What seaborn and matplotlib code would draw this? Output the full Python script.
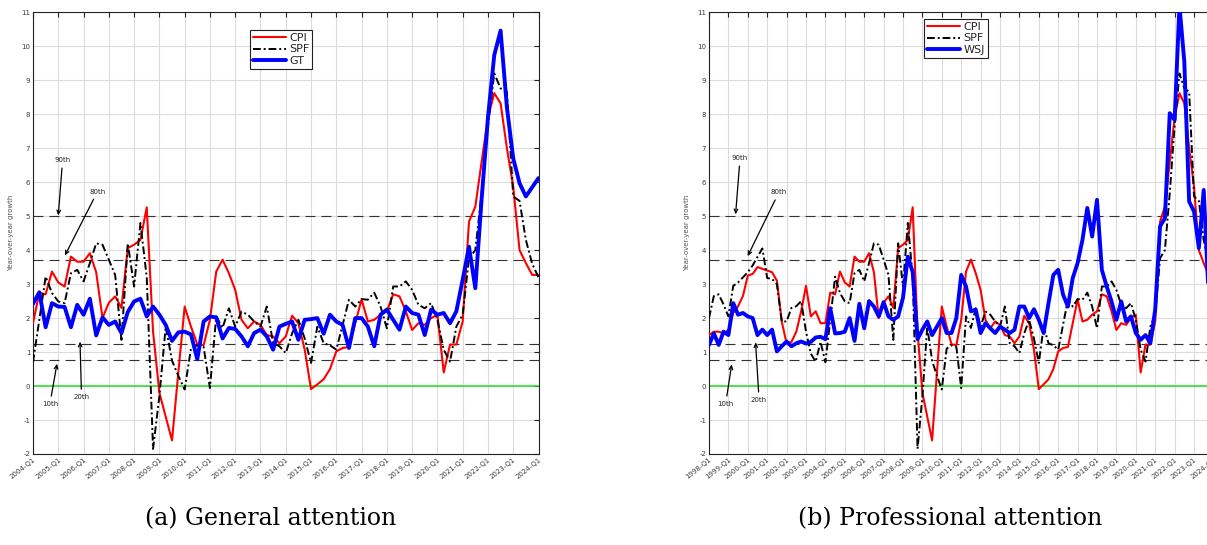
import numpy as np
import pandas as pd
import matplotlib
matplotlib.use("Agg")
import matplotlib.pyplot as plt
import seaborn as sns

# ---------------- data (quarterly, year-over-year growth, %) ----------------
# CPI and SPF: 1998-Q1 .. 2024-Q1 (105 quarters)
cpi = [1.5, 1.6, 1.6, 1.55, 1.65, 2.15, 2.35, 2.65, 3.25, 3.3, 3.5, 3.45,
       3.4, 3.35, 3.1, 1.9, 1.25, 1.3, 1.6, 2.2, 2.95, 2.05, 2.2, 1.85,
       1.85, 2.75, 2.7, 3.37, 3.05, 2.93, 3.81, 3.66, 3.66, 3.91,
       3.35, 2.0, 2.45, 2.64, 2.3, 4.06, 4.16, 4.3, 5.26, 1.6,
       -0.2, -0.9, -1.6, 0.4, 2.34, 1.75, 1.23, 1.2, 1.95, 3.37,
       3.72, 3.32, 2.83, 1.95, 1.7, 1.9, 1.8, 1.5, 1.46, 1.26,
       1.46, 2.07, 1.85, 1.07, -0.09, 0.05, 0.2, 0.5, 1.02, 1.12,
       1.15, 1.85, 2.55, 1.9, 1.95, 2.1, 2.2, 2.7, 2.64, 2.2,
       1.65, 1.85, 1.8, 2.0, 2.1, 0.4, 1.22, 1.22, 1.9, 4.84,
       5.28, 6.6, 7.9, 8.62, 8.32, 7.0, 5.87, 4.0, 3.62, 3.27, 3.27]
spf = [2.0, 2.65, 2.7, 2.4, 2.05, 2.95, 3.05, 3.2, 3.35, 3.55, 3.8, 4.05,
       3.18, 3.15, 3.0, 1.9, 1.9, 2.3, 2.35, 2.5, 1.6, 0.95, 0.72, 1.3,
       0.7, 1.95, 3.22, 2.74, 2.49, 2.44, 3.32, 3.42, 3.08, 3.62,
       4.2, 4.16, 3.72, 3.27, 1.36, 4.2, 2.93, 4.8, 3.2, -1.85,
       -0.3, 1.75, 0.75, 0.3, -0.1, 1.1, 1.2, 1.15, -0.06, 2.05,
       1.71, 2.29, 1.75, 2.19, 2.1, 1.9, 1.75, 2.34, 1.26, 1.17,
       0.97, 1.55, 1.95, 1.4, 0.68, 1.75, 1.26, 1.2, 1.07, 1.8,
       2.54, 2.34, 2.56, 2.54, 2.75, 2.34, 1.7, 2.93, 2.93, 3.08,
       2.83, 2.39, 2.29, 2.44, 1.95, 1.07, 0.72, 1.75, 2.1, 3.76,
       4.0, 5.68, 7.65, 9.2, 8.76, 8.66, 5.58, 5.45, 4.3, 3.6, 3.2]
# GT (general attention): 2004-Q1 .. 2024-Q1 (81 quarters)
gt = [2.42, 2.76, 1.73, 2.44, 2.34, 2.33, 1.73, 2.39, 2.1, 2.57,
      1.49, 2.02, 1.8, 1.9, 1.56, 2.18, 2.49, 2.57, 2.05, 2.34,
      2.1, 1.8, 1.33, 1.58, 1.6, 1.52, 0.79, 1.9, 2.05, 2.02,
      1.4, 1.71, 1.68, 1.46, 1.17, 1.56, 1.66, 1.46, 1.07, 1.75,
      1.83, 1.9, 1.36, 1.95, 1.97, 2.0, 1.54, 2.1, 1.9, 1.8,
      1.12, 2.0, 2.0, 1.75, 1.17, 2.1, 2.25, 1.95, 1.66, 2.34,
      2.15, 2.1, 1.5, 2.25, 2.1, 2.15, 1.85, 2.2, 3.13, 4.1,
      2.88, 5.5, 7.9, 9.74, 10.46, 8.2, 6.7, 5.97, 5.58, 5.85, 6.12]
# WSJ (professional attention): 1998-Q1 .. 2024-Q1 (105 quarters)
wsj = [1.21, 1.55, 1.21, 1.6, 1.5, 2.44, 2.1, 2.15, 2.05, 2.0,
       1.5, 1.66, 1.5, 1.66, 1.02, 1.17, 1.31, 1.17, 1.26, 1.31,
       1.25, 1.3, 1.43, 1.45, 1.38, 2.29, 1.55, 1.56, 1.6, 2.0,
       1.33, 2.42, 1.7, 2.5, 2.34, 2.05, 2.47, 2.05, 1.95, 2.05,
       2.6, 3.81, 3.35, 1.38, 1.66, 1.9, 1.5, 1.75, 2.0, 1.56,
       1.56, 2.0, 3.27, 2.93, 2.2, 2.25, 1.56, 1.85, 1.7, 1.56,
       1.75, 1.66, 1.56, 1.66, 2.34, 2.34, 2.0, 2.26, 1.95, 1.56,
       2.44, 3.27, 3.42, 2.69, 2.34, 3.18, 3.62, 4.3, 5.24, 4.4,
       5.48, 3.42, 2.93, 2.49, 1.95, 2.49, 1.9, 2.05, 1.56, 1.36,
       1.5, 1.26, 2.25, 4.7, 4.94, 8.03, 7.83, 11.2, 9.55, 5.43,
       5.14, 4.06, 5.77, 2.7, 3.0]

percentile_levels = [5.0, 3.7, 1.23, 0.77]
percentile_names = ["90th", "80th", "20th", "10th"]
start_full = 1998
start_gt = 2004
end_year = 2024
captions = ["(a) General attention", "(b) Professional attention"]

# ---------------- build frames ----------------
t_full = start_full + np.arange(len(cpi)) / 4.0
df_full = pd.DataFrame({"t": t_full, "CPI": cpi, "SPF": spf, "WSJ": wsj})
off = (start_gt - start_full) * 4
df_gt = pd.DataFrame({"t": t_full[off:], "CPI": cpi[off:], "SPF": spf[off:], "GT": gt})

sns.set_theme(style="white")
plt.rcParams["font.family"] = ["DejaVu Sans"]

W, H = 1207, 545
fig = plt.figure(figsize=(W / 100, H / 100), dpi=100)

def px_axes(x0, y0, x1, y1):
    return fig.add_axes([x0 / W, 1 - y1 / H, (x1 - x0) / W, (y1 - y0) / H])

axL = px_axes(33, 12.3, 538.5, 454)
axR = px_axes(709, 12.3, 709 + 19.4 * 26, 454)

tick_gray = "#3a3a3a"

def style_axes(ax, y0, y1):
    ax.set_xlim(y0, y1)
    ax.set_ylim(-2, 11)
    years = list(range(y0, y1 + 1))
    ax.set_xticks(years)
    ax.set_xticklabels([f"{y}-Q1" for y in years], rotation=38, ha="right",
                       rotation_mode="anchor", fontsize=5, color=tick_gray)
    ax.set_yticks(range(-2, 12))
    ax.set_yticklabels([str(v) for v in range(-2, 12)], fontsize=5, color=tick_gray)
    ax.tick_params(direction="in", length=3.5, width=0.8, top=True, right=True,
                   color="#222222", pad=2)
    ax.grid(True, color="#dcdcdc", linewidth=0.8)
    ax.set_axisbelow(True)
    for s in ax.spines.values():
        s.set_color("#222222")
        s.set_linewidth(0.8)
        s.set_visible(True)
    ax.set_ylabel("Year-over-year growth", fontsize=5, color="#555555")
    ax.yaxis.set_label_coords(-0.037, 0.5)
    ax.set_xlabel("")
    # percentile reference lines and zero line
    for lv in percentile_levels:
        ax.axhline(lv, color="#333333", lw=0.8, ls=(0, (9, 5.4)), zorder=2)
    ax.axhline(0, color="#1ee01e", lw=1.1, zorder=2)

def draw(ax, df, third, third_label):
    sns.lineplot(data=df, x="t", y="CPI", ax=ax, color="#ff0000", lw=1.5,
                 label="CPI", zorder=4)
    sns.lineplot(data=df, x="t", y="SPF", ax=ax, color="black", lw=1.4,
                 ls=(0, (4, 1.5, 1, 1.5)), label="SPF", zorder=4)
    sns.lineplot(data=df, x="t", y=third, ax=ax, color="#0000ff", lw=2.8,
                 label=third_label, zorder=5)

draw(axL, df_gt, "GT", "GT")
draw(axR, df_full, "WSJ", "WSJ")
style_axes(axL, start_gt, end_year)
style_axes(axR, start_full, end_year)

# legends
for ax, (lx, ly) in [(axL, (250, 30)), (axR, (924, 19))]:
    leg = ax.legend(loc="upper left", bbox_to_anchor=(lx / W, 1 - ly / H),
                    bbox_transform=fig.transFigure, fontsize=8, frameon=True,
                    fancybox=False, edgecolor="#222222", framealpha=1,
                    borderpad=0.25, labelspacing=0.15, handlelength=3.0,
                    handletextpad=0.3, borderaxespad=0)
    leg.get_frame().set_linewidth(0.8)

# percentile annotations: (text pos, arrow tip)
ann_L = {"90th": ((2005.17, 6.64), (2005.0, 5.02)),
         "80th": ((2006.55, 5.72), (2005.26, 3.84)),
         "10th": ((2004.67, -0.52), (2004.95, 0.66)),
         "20th": ((2005.92, -0.32), (2005.86, 1.31))}
ann_R = {"90th": ((1999.6, 6.7), (1999.37, 5.05)),
         "80th": ((2001.6, 5.7), (1999.99, 3.82)),
         "10th": ((1998.86, -0.52), (1999.17, 0.64)),
         "20th": ((2000.58, -0.4), (2000.4, 1.29))}
for ax, ann in [(axL, ann_L), (axR, ann_R)]:
    for name in percentile_names:
        (tx, ty), (hx, hy) = ann[name]
        ax.annotate(name, xy=(hx, hy), xytext=(tx, ty), fontsize=5,
                    color="#222222", ha="center", va="center", zorder=6,
                    arrowprops=dict(arrowstyle="->,head_length=0.55,head_width=0.25",
                                    color="black", lw=0.9, shrinkA=1, shrinkB=0))

# captions
fig.text(271 / W, 1 - 519 / H, captions[0], ha="center", va="center",
         fontsize=17, family=["DejaVu Serif"], color="black")
fig.text(950 / W, 1 - 519 / H, captions[1], ha="center", va="center",
         fontsize=17, family=["DejaVu Serif"], color="black")

fig.savefig("out.png", dpi=100)
